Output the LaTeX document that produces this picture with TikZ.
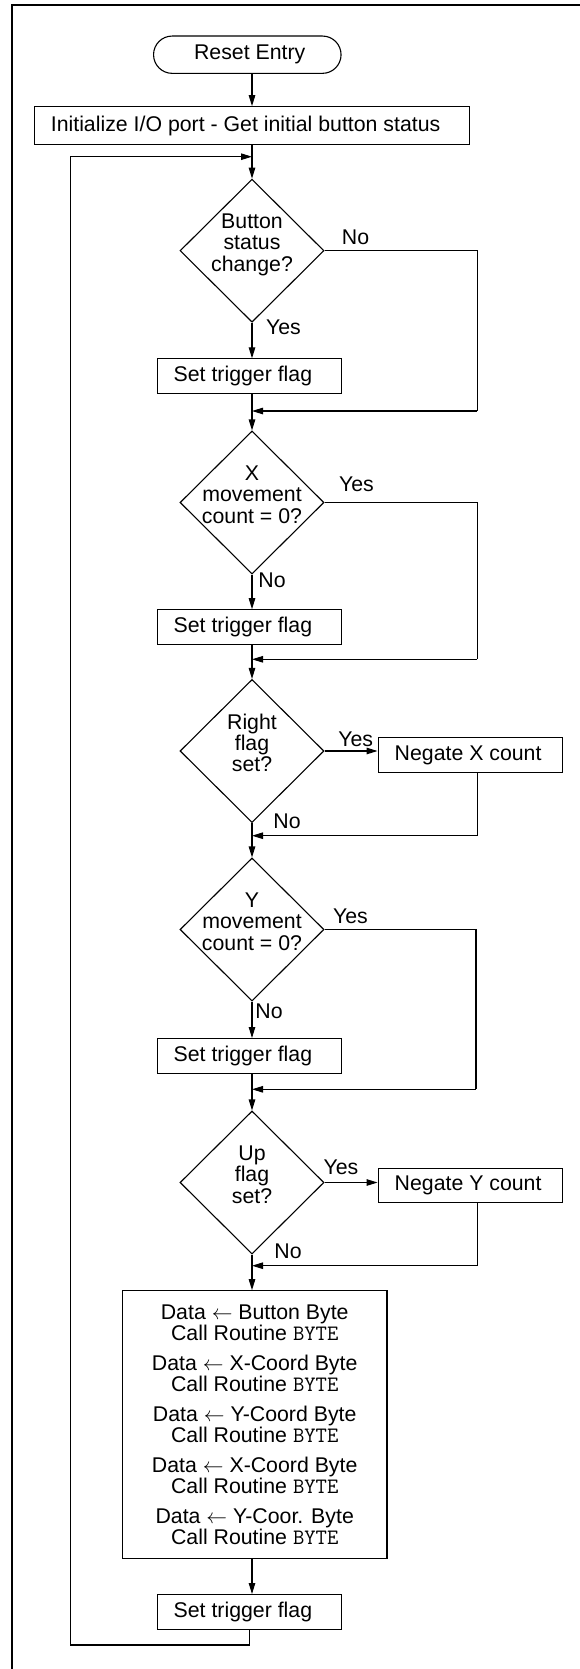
\documentclass[tikz,border=0pt]{standalone}
\usepackage{fontspec}
\setmainfont{Liberation Sans}
\usetikzlibrary{arrows.meta,shapes.geometric,calc}
\newcommand{\myByte}{{\fontsize{22pt}{21.3pt}\selectfont\ttfamily BYTE}}
\tikzset{
  txt/.style={font=\fontsize{21.3pt}{21.3pt}\selectfont, inner sep=0pt},
  base/.style={txt, draw=black, line width=1.1pt},
  procbox/.style={base, minimum width=184pt, minimum height=34.5pt},
  dec/.style={base, diamond, minimum width=144pt, minimum height=143pt},
  dtext/.style={txt, align=center},
  lbl/.style={txt},
  arr/.style={draw=black, line width=1.1pt, -{Triangle[length=11pt,width=6.5pt]}},
  ln/.style={draw=black, line width=1.1pt},
}
\begin{document}
\begin{tikzpicture}[x=1pt,y=1pt]
\useasboundingbox (0,0) rectangle (580,-1669);
% frame
\draw[line width=2.2pt] (11.8,-1690) -- (11.8,-5) -- (600,-5);

% nodes
\node[base, rounded corners=18.6pt, minimum width=187.5pt, minimum height=37.3pt] (reset) at (247.3,-54.7) {\hspace*{4.8pt}Reset Entry};
\node[base, minimum width=435.4pt, minimum height=37.6pt] (init) at (252.1,-125.5) {Initialize I/O port - Get initial button status\hspace*{13pt}};

\node[dec] (d1) at (252,-250.7) {};
\node[dtext] (d1t) at ($(d1)+(0,6)$) {Button\\status\\change?};
\node[procbox] (s1) at (249.15,-376.15) {Set trigger flag\hspace*{12.5pt}};

\node[dec] (d2) at (252,-502.5) {};
\node[dtext] (d2t) at ($(d2)+(0,8)$) {X\\movement\\count = 0?};
\node[procbox] (s2) at (249.15,-627) {Set trigger flag\hspace*{12.5pt}};

\node[dec] (d3) at (252,-751) {};
\node[dtext] (d3t) at ($(d3)+(0,8)$) {Right\\flag\\set?};
\node[procbox] (nx) at (470.1,-755) {Negate X count\hspace*{4pt}};

\node[dec] (d4) at (252,-929.5) {};
\node[dtext] (d4t) at ($(d4)+(0,8)$) {Y\\movement\\count = 0?};
\node[procbox] (s3) at (249.15,-1055.8) {Set trigger flag\hspace*{12.5pt}};

\node[dec] (d5) at (252,-1182.5) {};
\node[dtext] (d5t) at ($(d5)+(0,8)$) {Up\\flag\\set?};
\node[procbox] (ny) at (470.1,-1185.5) {Negate Y count\hspace*{4pt}};

\node[base, minimum width=264.5pt, minimum height=268pt, align=center] (data) at (254.7,-1424.7)
 {Data $\leftarrow$ Button Byte\\Call Routine \myByte\\[8.4pt]
  Data $\leftarrow$ X-Coord Byte\\Call Routine \myByte\\[8.4pt]
  Data $\leftarrow$ Y-Coord Byte\\Call Routine \myByte\\[8.4pt]
  Data $\leftarrow$ X-Coord Byte\\Call Routine \myByte\\[8.4pt]
  Data $\leftarrow$ Y-Coor. Byte\\Call Routine \myByte};
\node[procbox] (s4) at (249.15,-1611.8) {Set trigger flag\hspace*{12.5pt}};

% labels
\node[lbl] (l1) at (355.5,-237.3) {No};
\node[lbl] (l2) at (283.5,-327.7) {Yes};
\node[lbl] (l3) at (356.5,-484) {Yes};
\node[lbl] (l4) at (272,-580) {No};
\node[lbl] (l5) at (355.7,-739.3) {Yes};
\node[lbl] (l6) at (287,-821.7) {No};
\node[lbl] (l7) at (350.5,-916) {Yes};
\node[lbl] (l8) at (269,-1011.7) {No};
\node[lbl] (l9) at (341,-1167.7) {Yes};
\node[lbl] (l10) at (288,-1251) {No};

% coordinates
\coordinate (m1) at (252,-411);    \coordinate (r1) at (477.2,-411);
\coordinate (m2) at (252,-659.3);  \coordinate (r2) at (477.2,-659.3);
\coordinate (m3) at (252,-835.7);  \coordinate (r3) at (477.2,-835.7);
\coordinate (m4) at (252,-1089.3); \coordinate (r4) at (476,-1089.3);
\coordinate (m5) at (252,-1265.7); \coordinate (r5) at (477.2,-1265.7);
\coordinate (lp) at (70.3,-1645);
\coordinate (lq) at (70.3,-156.7);
\coordinate (lr) at (252,-156.7);

% connectors
\draw[arr] (d1.north |- reset.south) -- (d1.north |- init.north);
\draw[arr] (d1.north |- init.south) -- (d1.north);
\draw[arr] (d1.south) -- (d1.south |- s1.north);
\draw[ln] (d1.east) -| (r1);
\draw[arr] (r1) -- (m1);
\draw[arr] (d1.south |- s1.south) -- (d2.north);

\draw[arr] (d2.south) -- (d2.south |- s2.north);
\draw[ln] (d2.east) -| (r2);
\draw[arr] (r2) -- (m2);
\draw[arr] (d2.south |- s2.south) -- (d3.north);

\draw[arr] (d3.east) -- (d3.east -| nx.west);
\draw[ln] (r3 |- nx.south) -- (r3);
\draw[arr] (r3) -- (m3);
\draw[arr] (d3.south) -- (d4.north);

\draw[arr] (d4.south) -- (d4.south |- s3.north);
\draw[ln] (d4.east) -| (r4);
\draw[arr] (r4) -- (m4);
\draw[arr] (d4.south |- s3.south) -- (d5.north);

\draw[arr] (d5.east) -- (d5.east -| ny.west);
\draw[ln] (r5 |- ny.south) -- (r5);
\draw[arr] (r5) -- (m5);
\draw[arr] (d5.south) -- (d5.south |- data.north);

\draw[arr] (d5.south |- data.south) -- (d5.south |- s4.north);
\draw[arr] (s4.south) |- (lp) -- (lq) -- (lr);
\end{tikzpicture}
\end{document}
